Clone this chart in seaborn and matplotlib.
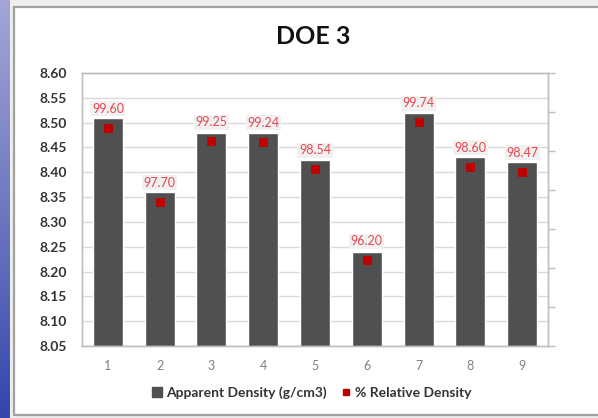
import numpy as np
import pandas as pd
import matplotlib
matplotlib.use("Agg")
import matplotlib.pyplot as plt
from matplotlib.colors import LinearSegmentedColormap
from matplotlib.lines import Line2D
from matplotlib.patches import Rectangle
import seaborn as sns

# DOE 3 runs: apparent density (bars, left axis) and % relative density (markers, right axis)
runs = ["1", "2", "3", "4", "5", "6", "7", "8", "9"]
apparent_density = [8.51, 8.36, 8.48, 8.48, 8.425, 8.24, 8.52, 8.43, 8.42]
relative_density = [99.60, 97.70, 99.25, 99.24, 98.54, 96.20, 99.74, 98.60, 98.47]
density_ticks = [8.05, 8.10, 8.15, 8.20, 8.25, 8.30, 8.35, 8.40, 8.45, 8.50, 8.55, 8.60]
relative_ticks = [94, 95, 96, 97, 98, 99, 100, 101]

df = pd.DataFrame({"run": runs,
                   "apparent": apparent_density,
                   "relative": relative_density})

sns.set_theme(style="white")
plt.rcParams["font.family"] = ["Lato", "DejaVu Sans"]

W, H = 598, 418
fig = plt.figure(figsize=(W / 100, H / 100), dpi=100, facecolor="#eeeeee")

# slide edge strip on the left
strip = fig.add_axes([0, 0, 10 / W, 1])
cmap = LinearSegmentedColormap.from_list("slide", ["#a3a6d6", "#6f78c0", "#3446ad"])
strip.imshow(np.linspace(0, 1, 256).reshape(-1, 1), aspect="auto", cmap=cmap)
strip.set_axis_off()

# chart area frame
fig.patches.append(Rectangle((13.5 / W, (H - 414.5) / H), 1.2, (414.5 - 6.5) / H,
                             transform=fig.transFigure, facecolor="white",
                             edgecolor="#a0a0a0", linewidth=1.6, zorder=-5))

ax = fig.add_axes([82 / W, (H - 346) / H, (548 - 82) / W, (346 - 73) / H])
ax.set_facecolor("white")

sns.barplot(data=df, x="run", y="apparent", color="#505050", width=0.58,
            saturation=1, ax=ax, zorder=2)
ax.set_ylim(8.05, 8.60)
ax.set_yticks(density_ticks)
ax.set_yticklabels([f"{t:.2f}" for t in density_ticks])
ax.set_xlabel("")
ax.set_ylabel("")
ax.yaxis.grid(True, color="#d9d9d9", linewidth=1.0, zorder=0)
ax.set_axisbelow(True)
for s in ax.spines.values():
    s.set_color("#bfbfbf")
    s.set_linewidth(1.0)
ax.tick_params(axis="y", length=0, pad=11, labelsize=10, labelcolor="#333333")
ax.tick_params(axis="x", length=0, pad=10, labelsize=9, labelcolor="#808080")
for lbl in ax.get_yticklabels():
    lbl.set_fontweight("bold")

ax2 = ax.twinx()
sns.pointplot(data=df, x="run", y="relative", linestyle="none", marker="s",
              markersize=5, color="#c00000", ax=ax2, zorder=5)
ax2.set_ylim(relative_ticks[0], relative_ticks[-1])
ax2.set_yticks(relative_ticks)
ax2.set_yticklabels([])
ax2.set_ylabel("")
ax2.tick_params(axis="y", direction="out", length=5, width=1, color="#bfbfbf")
ax2.patch.set_visible(False)
for s in ax2.spines.values():
    s.set_color("#bfbfbf")
    s.set_linewidth(1.0)
ax2.set_xlim(ax.get_xlim())

for i, v in enumerate(relative_density):
    ax2.annotate(f"{v:.2f}", (i, v), xytext=(0, 13.5), textcoords="offset points",
                 ha="center", va="center", fontsize=9, color="#e5474f",
                 bbox=dict(boxstyle="square,pad=0.12", facecolor="#f1f1f1",
                           edgecolor="none"), zorder=6)

fig.text(313.5 / W, 1 - 36 / H, "DOE 3", ha="center", va="center",
         fontsize=18, fontweight="bold", color="#111111")

handles = [Line2D([], [], linestyle="none", marker="s", markersize=6.5,
                  color="#505050"),
           Line2D([], [], linestyle="none", marker="s", markersize=5,
                  color="#c00000")]
fig.legend(handles, ["Apparent Density (g/cm3)", "% Relative Density"],
           loc="center", bbox_to_anchor=(312 / W, 1 - 393 / H), ncol=2,
           frameon=False, handlelength=0.7, handletextpad=0.3,
           columnspacing=1.0, prop={"size": 10, "weight": "bold"},
           labelcolor="#333333")

fig.savefig("out.png", dpi=100, facecolor=fig.get_facecolor())
